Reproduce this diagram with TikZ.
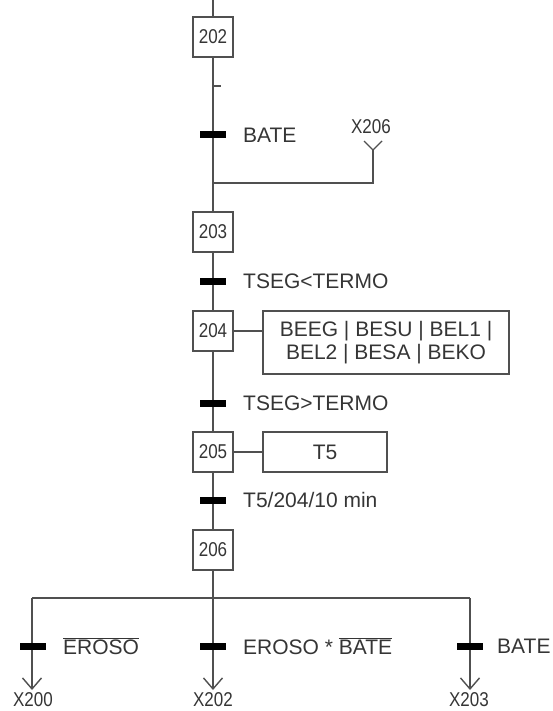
\documentclass[tikz,border=0pt]{standalone}
\usepackage{fontspec}
\setmainfont{Liberation Sans}
\usetikzlibrary{arrows.meta}
\definecolor{ln}{HTML}{505050}
\definecolor{tx}{HTML}{353535}
\newcommand{\nar}[1]{\scalebox{0.85}[1]{#1}}
\tikzset{
  stepbox/.style={draw=ln, line width=1.6pt, minimum width=40pt, minimum height=40pt, inner sep=0pt, text=tx, font=\fontsize{20}{22}\selectfont},
  actbox/.style={draw=ln, line width=1.6pt, inner sep=0pt, text=tx, font=\fontsize{21}{24}\selectfont, align=center},
  trans/.style={fill=black, minimum width=26pt, minimum height=7pt, inner sep=0pt},
  lab/.style={anchor=west, inner sep=0pt, text=tx, font=\fontsize{21}{24}\selectfont},
  xlab/.style={inner sep=0pt, text=tx, font=\fontsize{20}{22}\selectfont},
  wire/.style={draw=ln, line width=1.6pt},
  arr/.style={wire, -{Straight Barb[length=11pt,width=19pt,line width=1.4pt]}}
}
\begin{document}
\begin{tikzpicture}[x=1pt,y=-1pt]
\useasboundingbox (0,0) rectangle (553,711);
% coordinates
\coordinate (top) at (213,0);
\coordinate (tickA) at (213,86);
\coordinate (tickB) at (221,86);
\coordinate (xv) at (373,150);
\coordinate (xj) at (373,183);
\coordinate (mj) at (213,183);
\coordinate (hb) at (213,598);
\coordinate (hl) at (32,598);
\coordinate (hr) at (470,598);
\coordinate (a1) at (32,690);
\coordinate (a2) at (213,690);
\coordinate (a3) at (470,690);
% steps
\node[stepbox] (s202) at (213,37) {\nar{202}};
\node[stepbox] (s203) at (213,232) {\nar{203}};
\node[stepbox] (s204) at (213,331) {\nar{204}};
\node[stepbox] (s205) at (213,452) {\nar{205}};
\node[stepbox] (s206) at (213,550) {\nar{206}};
% actions
\node[actbox, minimum width=246pt, minimum height=63pt] (a204) at (386,342.5) {BEEG | BESU | BEL1 |\\[-1pt]BEL2 | BESA | BEKO};
\node[actbox, minimum width=124pt, minimum height=40pt] (a205) at (325,452) {T5};
% wires
\draw[wire] (top) -- (s202.north);
\draw[wire] (s202.south) -- (s203.north);
\draw[wire] (s203.south) -- (s204.north);
\draw[wire] (s204.south) -- (s205.north);
\draw[wire] (s205.south) -- (s206.north);
\draw[wire] (s206.south) -- (hb);
\draw[wire] (tickA) -- (tickB);
\draw[wire] (xv) -- (xj) -- (mj);
\draw[wire] (s204.east) -- (s204.east -| a204.west);
\draw[wire] (s205.east) -- (a205.west);
\draw[wire] (hl) -- (hr);
\draw[arr] (hl) -- (a1);
\draw[arr] (hb) -- (a2);
\draw[arr] (hr) -- (a3);
% X206 incoming
\node[xlab] (x206) at (371,127) {\nar{X206}};
\draw[wire, line width=1.4pt] (364,141) -- (xv) -- (382,141);
% transitions
\node[trans] (t1) at (213,135) {};
\node[lab] (l1) at (243,135) {BATE};
\node[trans] (t2) at (213,281) {};
\node[lab] (l2) at (243,281) {TSEG<TERMO};
\node[trans] (t3) at (213,403) {};
\node[lab] (l3) at (243,403) {TSEG>TERMO};
\node[trans] (t4) at (213,500) {};
\node[lab] (l4) at (243,500) {T5/204/10 min};
\node[trans] (t5) at (33,646) {};
\node[lab] (l5) at (63,646) {$\overline{\mbox{EROSO}}$};
\node[trans] (t6) at (213,646) {};
\node[lab] (l6) at (243,646) {EROSO * $\overline{\mbox{BATE}}$};
\node[trans] (t7) at (470,646) {};
\node[lab] (l7) at (497,646) {BATE};
% targets
\node[xlab] (x200) at (33,700) {\nar{X200}};
\node[xlab] (x202) at (213,700) {\nar{X202}};
\node[xlab] (x203) at (469,700) {\nar{X203}};
\end{tikzpicture}
\end{document}
